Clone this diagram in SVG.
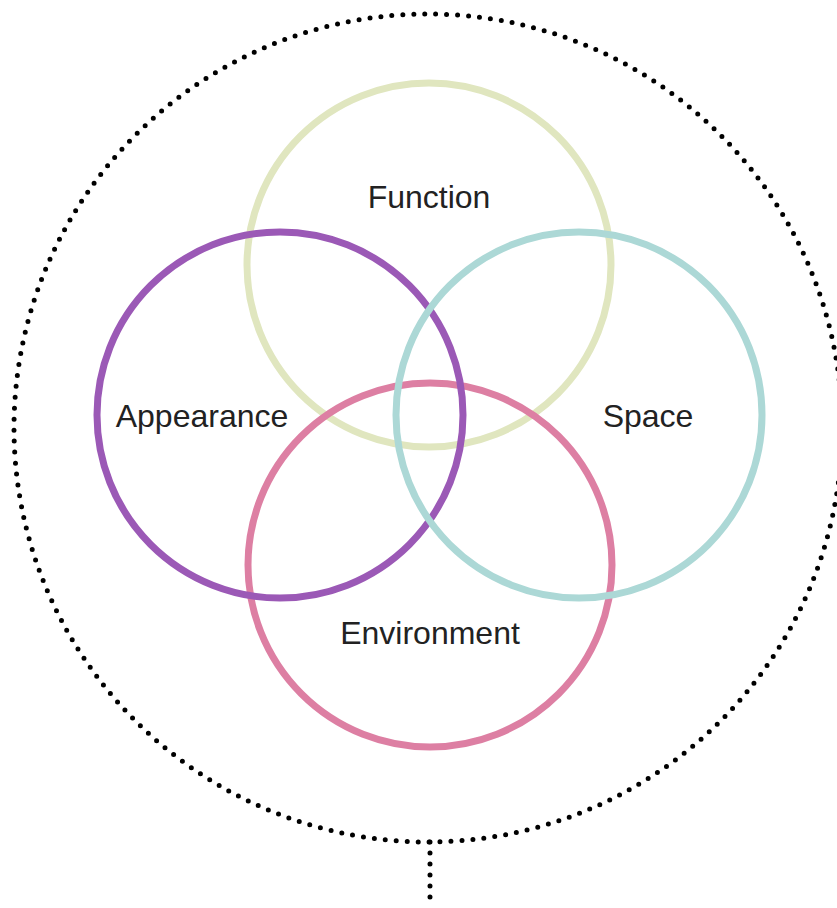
<svg xmlns="http://www.w3.org/2000/svg" width="837" height="908" viewBox="0 0 837 908">
  <style>
    .ring { fill: none; stroke-width: 7; }
    .dots { fill: none; stroke: #000; stroke-width: 5; stroke-linecap: round; stroke-dasharray: 0 11; }
    .label { font-family: "Liberation Sans", Arial, sans-serif; font-size: 32px; fill: #222; text-anchor: middle; }
  </style>
  <rect width="837" height="908" fill="#fff"/>
  <g id="connectors">
    <circle class="dots" cx="428" cy="428" r="414"/>
    <line class="dots" x1="430" y1="842" x2="430" y2="908"/>
  </g>
  <g id="function">
    <circle class="ring" cx="429" cy="265" r="182" stroke="#e0e6bf"/>
    <text class="label" x="429" y="208">Function</text>
  </g>
  <g id="environment">
    <circle class="ring" cx="430" cy="565" r="182" stroke="#dd7fa3"/>
    <text class="label" x="430" y="644">Environment</text>
  </g>
  <g id="appearance">
    <circle class="ring" cx="280" cy="415" r="183" stroke="#9b59b6"/>
    <text class="label" x="202" y="427">Appearance</text>
  </g>
  <g id="space">
    <circle class="ring" cx="579" cy="415" r="183" stroke="#acd8d6"/>
    <text class="label" x="648" y="427">Space</text>
  </g>
</svg>
